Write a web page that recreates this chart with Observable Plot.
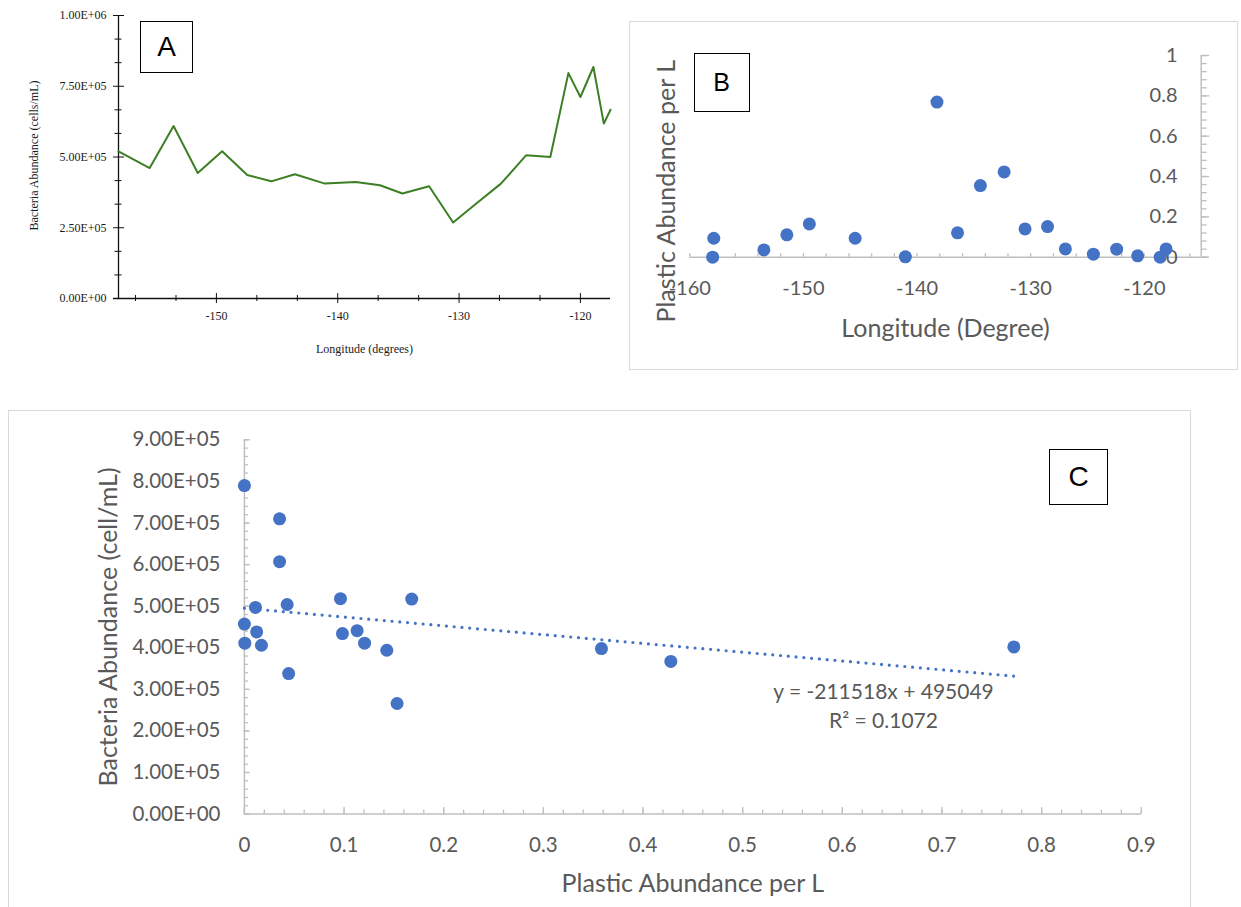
<!DOCTYPE html>
<html><head><meta charset="utf-8">
<script src="https://cdn.jsdelivr.net/npm/d3@7"></script>
<script src="https://cdn.jsdelivr.net/npm/@observablehq/plot@0.6"></script>
<style>
body{margin:0;background:#fff;}
#wrap{position:relative;width:1241px;height:907px;overflow:hidden;background:#fff;}
#wrap svg{position:absolute;max-width:none;}
.panel{position:absolute;border:1.5px solid #d9d9d9;box-sizing:border-box;}
.tag{position:absolute;border:1.5px solid #000;box-sizing:border-box;display:flex;align-items:center;justify-content:center;font-family:"Liberation Sans",Arial,sans-serif;color:#000;background:#fff;line-height:1;}
</style></head><body><div id="wrap"></div>
<script>
// ---------- Panel A: bacteria abundance vs longitude ----------
const lonA = [-158.07, -155.5, -153.53, -151.54, -149.53, -147.46, -145.48, -143.53, -141.06, -138.52, -136.52, -134.67, -132.47, -130.49, -128.53, -126.55, -124.48, -122.48, -120.99, -120.0, -118.93, -118.07, -117.52];
const bactA = [520000, 461000, 609500, 443500, 520000, 436500, 414000, 439000, 406000, 411500, 400000, 371000, 396500, 268500, 337500, 406000, 506000, 500000, 796500, 712000, 818000, 618000, 667000];
const aYTicks = [0, 250000, 500000, 750000, 1000000];
const aYMinor = [83333, 166667, 333333, 416667, 583333, 666667, 833333, 916667];
const aXTicks = [-150, -140, -130, -120];
const aXMinor = [-156.67, -153.33, -146.67, -143.33, -136.67, -133.33, -126.67, -123.33];

// ---------- Panel B: plastic abundance vs longitude ----------
const lonB = [-157.89, -157.99, -153.48, -151.46, -149.48, -145.45, -141.03, -138.25, -136.44, -134.43, -132.34, -130.50, -128.52, -126.95, -124.49, -122.44, -120.59, -118.61, -118.09];
const plasticB = [0.094, 0.0, 0.036, 0.111, 0.165, 0.094, 0.002, 0.769, 0.121, 0.355, 0.423, 0.140, 0.152, 0.041, 0.015, 0.040, 0.007, 0.0, 0.041];
const bYTicks = [0, 0.2, 0.4, 0.6, 0.8, 1];
const bXTicks = [-160, -150, -140, -130, -120];

// ---------- Panel C: bacteria vs plastic ----------
const plasticC = [0.0, 0.0353, 0.0353, 0.0111, 0.0429, 0.0, 0.0123, 0.0004, 0.0171, 0.0444, 0.0964, 0.0984, 0.1131, 0.1206, 0.1429, 0.1532, 0.1679, 0.3583, 0.4279, 0.7721];
const bactC = [790000, 710000, 607000, 497000, 504000, 457000, 438000, 411000, 406000, 338000, 518000, 434000, 441000, 411000, 394000, 266000, 517000, 398000, 367000, 402000];
const trendSlope = -211518, trendIntercept = 495049;
const trendLabel = "y = -211518x + 495049";
const r2Label = "R² = 0.1072";
const cYTicks = [0, 100000, 200000, 300000, 400000, 500000, 600000, 700000, 800000, 900000];
const cXTicks = [0, 0.1, 0.2, 0.3, 0.4, 0.5, 0.6, 0.7, 0.8, 0.9];

const fmtE = d => {
  const [m, e] = d.toExponential(2).split("e");
  const sign = e[0] === "-" ? "-" : "+";
  return `${m}E${sign}${e.replace(/[+-]/, "").padStart(2, "0")}`;
};
const blank = () => "";
const serif = "'Liberation Serif','Times New Roman',serif";
const excelFont = "Lato, 'Open Sans', sans-serif";
const grey = "#595959";
const axisGrey = "#bfbfbf";
const blue = "#4472C4";
const mid = {textAnchor: "middle", lineAnchor: "middle"};

const wrap = document.getElementById("wrap");
function place(el, left, top) { el.style.left = left + "px"; el.style.top = top + "px"; wrap.appendChild(el); }
function div(cls, left, top, w, h, text, fs) {
  const d = document.createElement("div");
  d.className = cls; d.style.width = w + "px"; d.style.height = h + "px";
  if (text) { d.textContent = text; d.style.fontSize = fs + "px"; }
  place(d, left, top);
}

// panel borders (behind)
div("panel", 628.7, 21, 609.3, 349);
div("panel", 8, 410, 1182.7, 510);

// ---------- Plot A ----------
const dataA = lonA.map((x, i) => ({x, y: bactA[i]}));
const plotA = Plot.plot({
  width: 620, height: 370, marginLeft: 118, marginRight: 10, marginTop: 15, marginBottom: 72,
  style: {background: "transparent", overflow: "visible", fontFamily: serif, fontSize: "12px", color: "#1a1a1a"},
  x: {domain: [lonA[0], lonA[lonA.length - 1]]},
  y: {domain: [0, 1000000]},
  marks: [
    Plot.ruleX([lonA[0]], {stroke: "#111", strokeWidth: 1.3}),
    Plot.ruleY([0], {stroke: "#111", strokeWidth: 1.3, insetLeft: -5}),
    Plot.axisY({ticks: aYTicks, tickSize: 5, tickPadding: 7, tickFormat: fmtE, label: null, stroke: "#111", fontSize: 12}),
    Plot.axisY({ticks: aYTicks, tickSize: 6, dx: 6, tickFormat: blank, label: null, stroke: "#111"}),
    Plot.axisY({ticks: aYMinor, tickSize: 3.5, tickFormat: blank, label: null, stroke: "#111"}),
    Plot.axisY({ticks: aYMinor, tickSize: 3.5, dx: 3.5, tickFormat: blank, label: null, stroke: "#111"}),
    Plot.axisX({ticks: aXTicks, tickSize: 5, tickPadding: 8, tickFormat: d => String(d), label: null, stroke: "#111", fontSize: 12}),
    Plot.axisX({ticks: aXTicks, tickSize: 5, dy: -5, tickFormat: blank, label: null, stroke: "#111"}),
    Plot.axisX({ticks: aXMinor, tickSize: 3, tickFormat: blank, label: null, stroke: "#111"}),
    Plot.axisX({ticks: aXMinor, tickSize: 3, dy: -3, tickFormat: blank, label: null, stroke: "#111"}),
    Plot.line(dataA, {x: "x", y: "y", stroke: "#3c7f24", strokeWidth: 2}),
    Plot.text(["Bacteria Abundance (cells/mL)"], {...mid, frameAnchor: "left", dx: -84.4, dy: -1.5, rotate: -90, fontSize: 12, fill: "#1a1a1a"}),
    Plot.text(["Longitude (degrees)"], {...mid, frameAnchor: "bottom", dy: 50.3, fontSize: 12, fill: "#1a1a1a"})
  ]
});
plotA.style.width = "620px";
place(plotA, 0, 0);

// ---------- Plot B ----------
const dataB = lonB.map((x, i) => ({x, y: plasticB[i]}));
const plotB = Plot.plot({
  width: 621, height: 380, marginLeft: 69.3, marginRight: 40.3, marginTop: 55, marginBottom: 123.3,
  style: {background: "transparent", overflow: "visible", fontFamily: excelFont, fontSize: "20px", color: grey},
  x: {domain: [-160, -115]},
  y: {domain: [0, 1]},
  marks: [
    Plot.ruleY([0], {x1: -160, x2: -114.4, stroke: axisGrey, strokeWidth: 1.5}),
    Plot.ruleX([-115], {stroke: axisGrey, strokeWidth: 1.5}),
    Plot.axisX({ticks: d3.range(-160, -115, 2), tickSize: 3.5, dy: -3.5, tickFormat: blank, label: null, stroke: axisGrey, strokeWidth: 1.3}),
    Plot.axisY({anchor: "right", ticks: bYTicks, tickSize: 7.5, tickFormat: blank, label: null, stroke: axisGrey, strokeWidth: 1.3}),
    Plot.axisY({anchor: "right", ticks: d3.range(0, 1.001, 0.04), tickSize: 5, tickFormat: blank, label: null, stroke: axisGrey, strokeWidth: 1.3}),
    Plot.text(bXTicks, {...mid, x: d => d, frameAnchor: "bottom", dy: 31.6, text: d => String(d), fontSize: 20, fill: grey}),
    Plot.text(bYTicks, {y: d => d, frameAnchor: "right", dx: -23.7, textAnchor: "end", lineAnchor: "middle", text: d => String(d), fontSize: 20, fill: grey}),
    Plot.dot(dataB, {x: "x", y: "y", r: 6.5, fill: blue}),
    Plot.text(["Plastic Abundance per L"], {...mid, frameAnchor: "left", dx: -22.7, dy: 34.9, rotate: -90, fontSize: 25, fill: grey}),
    Plot.text(["Longitude (Degree)"], {...mid, frameAnchor: "bottom", dy: 71.3, fontSize: 25, fill: grey})
  ]
});
plotB.style.width = "621px";
place(plotB, 620, 0);

// ---------- Plot C ----------
const dataC = plasticC.map((x, i) => ({x, y: bactC[i]}));
const xMaxC = d3.max(plasticC), xMinC = d3.min(plasticC);
const trend = [xMinC, xMaxC].map(x => ({x, y: trendIntercept + trendSlope * x}));
const plotC = Plot.plot({
  width: 1241, height: 507, marginLeft: 243.9, marginRight: 100.2, marginTop: 39.3, marginBottom: 93.4,
  style: {background: "transparent", overflow: "visible", fontFamily: excelFont, fontSize: "20px", color: grey},
  x: {domain: [0, 0.9]},
  y: {domain: [0, 900000]},
  marks: [
    Plot.ruleY([0], {stroke: axisGrey, strokeWidth: 1.5}),
    Plot.ruleX([0], {stroke: axisGrey, strokeWidth: 1.5}),
    Plot.axisX({ticks: cXTicks, tickSize: 6.5, dy: -6.5, tickFormat: blank, label: null, stroke: axisGrey, strokeWidth: 1.3}),
    Plot.axisX({ticks: d3.range(0, 0.901, 0.02), tickSize: 4, dy: -4, tickFormat: blank, label: null, stroke: axisGrey, strokeWidth: 1.3}),
    Plot.axisY({ticks: cYTicks, tickSize: 6, dx: 6, tickFormat: blank, label: null, stroke: axisGrey, strokeWidth: 1.3}),
    Plot.axisY({ticks: d3.range(0, 900001, 20000), tickSize: 4, dx: 4, tickFormat: blank, label: null, stroke: axisGrey, strokeWidth: 1.3}),
    Plot.text(cXTicks, {...mid, x: d => d, frameAnchor: "bottom", dy: 31.5, text: d => String(d), fontSize: 20.5, fill: grey}),
    Plot.text(cYTicks, {y: d => d, frameAnchor: "left", dx: -23.9, textAnchor: "end", lineAnchor: "middle", text: fmtE, fontSize: 20.5, fill: grey}),
    Plot.line(trend, {x: "x", y: "y", stroke: blue, strokeWidth: 3.2, strokeDasharray: "0 7.8", strokeLinecap: "round"}),
    Plot.dot(dataC, {x: "x", y: "y", r: 6.5, fill: blue}),
    Plot.text([trendLabel], {...mid, frameAnchor: "top-left", dx: 639.1, dy: 252.7, fontSize: 21, fill: grey}),
    Plot.text([r2Label], {...mid, frameAnchor: "top-left", dx: 639.1, dy: 281.7, fontSize: 21, fill: grey}),
    Plot.text(["Bacteria Abundance (cell/mL)"], {...mid, frameAnchor: "left", dx: -135.2, rotate: -90, fontSize: 25, fill: grey}),
    Plot.text(["Plastic Abundance per L"], {...mid, frameAnchor: "bottom", dy: 70, fontSize: 25, fill: grey})
  ]
});
plotC.style.width = "1241px";
place(plotC, 0, 400);

// tag boxes on top
div("tag", 140.3, 20.7, 52.6, 52, "A", 28);
div("tag", 693.5, 53.3, 56, 59, "B", 25);
div("tag", 1049, 449, 59, 56, "C", 28);
</script>
</body></html>
